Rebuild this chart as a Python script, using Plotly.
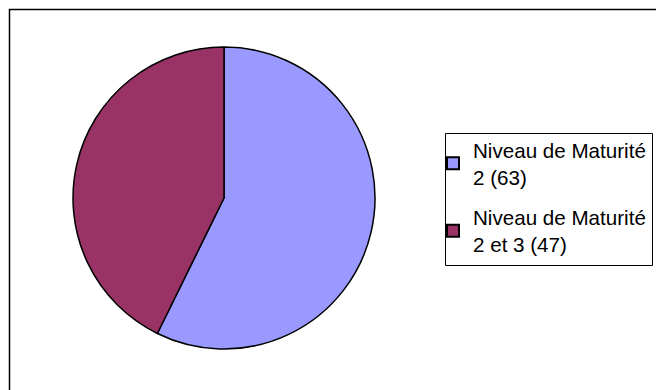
import plotly.graph_objects as go

# Répartition par niveau de maturité
labels = ["Niveau de Maturité<br>2 (63)", "Niveau de Maturité<br>2 et 3 (47)"]
values = [63, 47]
colors = ["#9999FF", "#993366"]

W, H = 656, 390
cx, cy, r = 224, 198, 151

fig = go.Figure()

fig.add_trace(
    go.Pie(
        labels=labels,
        values=values,
        sort=False,
        direction="clockwise",
        rotation=0,
        textinfo="none",
        hoverinfo="label+value",
        showlegend=False,
        marker=dict(colors=colors, line=dict(color="black", width=1.5)),
        domain=dict(
            x=[(cx - r) / W, (cx + r) / W],
            y=[1 - (cy + r) / H, 1 - (cy - r) / H],
        ),
    )
)

# Legend entries, one group per category so the spacing can be set
for i, (lab, col) in enumerate(zip(labels, colors)):
    fig.add_trace(
        go.Scatter(
            x=[None],
            y=[None],
            mode="markers",
            name=lab,
            legendgroup=f"g{i}",
            marker=dict(symbol="square", size=13, color=col,
                        line=dict(color="black", width=1.2)),
            hoverinfo="skip",
        )
    )

fig.update_layout(
    width=W,
    height=H,
    margin=dict(l=0, r=0, t=0, b=0),
    paper_bgcolor="white",
    plot_bgcolor="white",
    font=dict(family="Liberation Sans, Arial, sans-serif", color="black"),
    xaxis=dict(visible=False),
    yaxis=dict(visible=False),
    legend=dict(
        x=433 / W,
        y=1 - 130 / H,
        xanchor="left",
        yanchor="top",
        borderwidth=0,
        bgcolor="rgba(0,0,0,0)",
        font=dict(size=20.6, color="black"),
        itemsizing="constant",
        traceorder="grouped",
        tracegroupgap=11,
    ),
    shapes=[
        # outer chart frame
        dict(
            type="rect", xref="paper", yref="paper",
            x0=9.5 / W, x1=1.05, y0=-0.05, y1=1 - 9.5 / H,
            line=dict(color="black", width=1.5),
            fillcolor="rgba(0,0,0,0)",
        ),
        # legend frame
        dict(
            type="rect", xref="paper", yref="paper",
            x0=445.5 / W, x1=652.5 / W, y0=1 - 265.5 / H, y1=1 - 133.5 / H,
            line=dict(color="black", width=1),
            fillcolor="rgba(0,0,0,0)",
        ),
    ],
)

fig.write_html("out.html")
